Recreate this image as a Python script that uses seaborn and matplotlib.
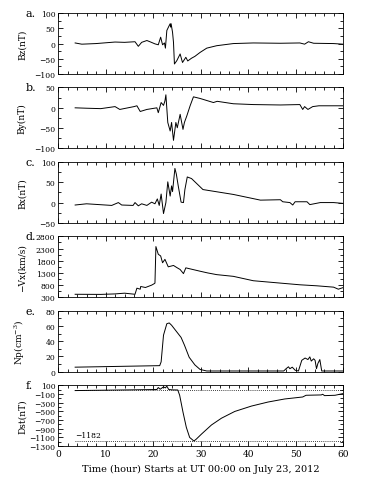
import numpy as np
import pandas as pd
import matplotlib
matplotlib.use("Agg")
import matplotlib.pyplot as plt
from matplotlib.ticker import MultipleLocator, FixedLocator
import seaborn as sns

# ---------------- DATA ----------------
t_bz = [3.6, 5.0, 8.0, 12.0, 14.0, 16.2, 16.9, 17.6, 18.7, 19.5, 20.4, 21.1, 21.6, 22.0,
        22.4, 22.6, 22.9, 23.4, 23.6, 23.7, 23.8, 24.1, 24.3, 24.5, 25.0, 25.7, 26.0, 26.2,
        26.9, 27.3, 28.1, 28.8, 29.9, 31.3, 33.4, 36.9, 41.1, 46.8, 50.9, 51.9, 52.7,
        53.8, 58.0, 60.0]
bz = [2, -2, 0, 5, 4, 6, -9, 4, 10, 5, -1, -4, 21, -4,
      2, -15, 43, 59, 65, 54, 65, 37, 4, -67, -56, -34, -51, -62,
      -45, -57, -48, -42, -29, -15, -7, 0, 2, 1, 2, -2, 6,
      1, 0, -2]

t_by = [3.6, 6.0, 9.0, 12.0, 13.0, 16.0, 16.6, 17.3, 18.7, 20.8, 21.1, 21.7, 22.2, 22.5,
        22.7, 23.1, 23.6, 23.9, 24.3, 24.8, 25.1, 25.7, 26.3, 26.6, 27.1, 27.8, 28.5,
        29.9, 32.7, 33.5, 36.9, 41.1, 46.8, 50.9, 51.5, 51.9, 52.6, 53.6, 54.9, 58.0, 60.0]
by = [0, -1, -2, 3, -4, 3, 5, -9, -4, 0, -12, 13, 6, 17,
      32, -36, -57, -36, -80, -36, -49, -16, -53, -36, -20, 5, 27,
      23, 13, 16, 10, 8, 7, 8, -4, 3, -4, 3, 5, 5, 5]

t_bx = [3.6, 6.0, 11.3, 12.7, 13.4, 15.8, 16.2, 16.9, 17.6, 18.7, 19.7, 20.4, 20.9,
        21.3, 21.7, 22.2, 22.7, 23.1, 23.6, 23.9, 24.1, 24.6, 24.9, 25.3, 25.9, 26.4,
        26.7, 27.2, 28.1, 30.5, 36.9, 42.6, 46.8, 47.3, 48.8, 49.4, 49.9, 52.4, 53.0,
        55.2, 58.0, 60.0]
bx = [-6, -3, -7, 0, -6, -7, 0, -8, -3, -7, 1, -3, 9,
      -7, 21, -27, 0, 51, 16, 41, 27, 84, 70, 41, 1, 0,
      32, 63, 59, 32, 20, 6, 7, 2, 0, -6, 2, 2, -5,
      0, 0, -2]

t_vx = [3.6, 9.0, 12.0, 14.0, 16.2, 16.6, 17.3, 17.4, 18.4, 19.7, 20.2, 20.4, 20.6,
        21.1, 21.6, 22.0, 22.5, 23.2, 24.3, 25.0, 25.7, 26.4, 26.9, 29.9, 31.5, 33.4,
        36.9, 41.1, 46.8, 50.9, 54.5, 58.0, 59.0, 60.0]
vx = [425, 420, 440, 470, 425, 675, 633, 744, 703, 800, 855, 883, 2380,
      2064, 1995, 1717, 1856, 1550, 1606, 1520, 1440, 1272, 1508, 1370, 1300, 1230,
      1160, 980, 883, 814, 772, 717, 633, 700]

t_np = [3.6, 21.4, 21.7, 22.2, 22.9, 23.4, 23.9, 24.9, 25.9, 26.6, 27.6, 28.8, 29.9,
        31.3, 36.9, 47.5, 48.0, 48.5, 48.8, 49.3, 49.9, 50.6, 51.3, 52.0, 52.6, 53.0,
        53.3, 53.8, 54.1, 54.4, 54.7, 55.1, 55.5, 58.0, 60.0]
npx = [6, 8, 13, 48, 63, 64, 61, 53, 45, 35, 19, 9, 3,
       1, 1, 1, 4, 6.5, 4, 6, 2, 1, 15, 18, 16, 19.5,
       14, 17, 15, 4, 11, 16, 1, 1, 1]

t_dst = [3.6, 20.8, 21.1, 21.5, 22.2, 22.6, 22.9, 23.3, 24.1, 25.2, 25.6, 26.3, 27.0,
         27.7, 28.6, 29.1, 30.2, 32.3, 34.4, 37.2, 40.7, 44.2, 47.7, 51.5, 52.2, 55.4,
         55.7, 56.1, 58.3, 60.0]
dst = [-24, 0, 46, 7, 60, 38, 77, 0, -8, -10, -132, -519, -867,
       -1099, -1182, -1138, -1022, -813, -658, -503, -380, -287, -217, -171, -132, -124,
       -109, -140, -132, -93]
dst_refs = [0, -1182]

# (letter, y label, x, y, y ticks, minor step)
panels = [
    ("a.", "Bz(nT)", t_bz, bz, [-100, -50, 0, 50, 100], 25),
    ("b.", "By(nT)", t_by, by, [-100, -50, 0, 50], 25),
    ("c.", "Bx(nT)", t_bx, bx, [-50, 0, 50, 100], 25),
    ("d.", "\u2212Vx(km/s)", t_vx, vx, [300, 800, 1300, 1800, 2300, 2800], 250),
    ("e.", r"Np(cm$^{-3}$)", t_np, npx, [0, 20, 40, 60, 80], 10),
    ("f.", "Dst(nT)", t_dst, dst, list(range(-1300, 101, 200)), 100),
]

# ---------------- STYLE ----------------
plt.rcParams.update({
    "font.family": ["DejaVu Serif"],
    "mathtext.fontset": "dejavuserif",
    "axes.linewidth": 0.6,
})

fig, axes = plt.subplots(6, 1, figsize=(3.65, 4.85), dpi=100)
fig.subplots_adjust(left=0.159, right=0.94, top=0.971, bottom=0.078, hspace=0.22)

for ax, (letter, ylab, tt, vv, yticks, minor) in zip(axes, panels):
    sns.lineplot(x=tt, y=vv, ax=ax, color="black", lw=0.7)

for ax, (letter, ylab, tt, vv, yticks, minor) in zip(axes, panels):
    ax.set_xlim(0, 60)
    ax.set_ylim(yticks[0], yticks[-1])
    ax.set_yticks(yticks)
    ax.set_yticks(np.arange(yticks[0], yticks[-1] + 1, minor), minor=True)
    ax.set_xticks(np.arange(0, 61, 10))
    ax.set_xticks(np.arange(0, 61, 2), minor=True)
    ax.tick_params(which="both", direction="in", top=True, bottom=True,
                   left=True, right=True, color="black", width=0.6,
                   labelsize=5.5, pad=2)
    ax.tick_params(which="major", length=3.5)
    ax.tick_params(which="minor", length=2.0)
    ax.set_ylabel(ylab, fontsize=6.5)
    ax.yaxis.set_label_coords(-0.11, 0.5)
    ax.text(-0.115, 1.0, letter, transform=ax.transAxes, ha="left", va="center",
            fontsize=8)
    if ax is not axes[-1]:
        ax.tick_params(axis="x", labelbottom=False)
        ax.set_xlabel("")

# Dst reference levels
axf = axes[-1]
axf.hlines(dst_refs, t_dst[0], 60, colors="black", linestyles=(0, (1, 1.5)), lw=0.6)
axf.text(t_dst[0], -1040, "\u22121182", fontsize=5.5, va="center")

axf.set_xlabel("Time (hour) Starts at UT 00:00 on July 23, 2012", fontsize=7)
axf.tick_params(axis="x", labelsize=6.5)

fig.savefig("out.png", dpi=100)
